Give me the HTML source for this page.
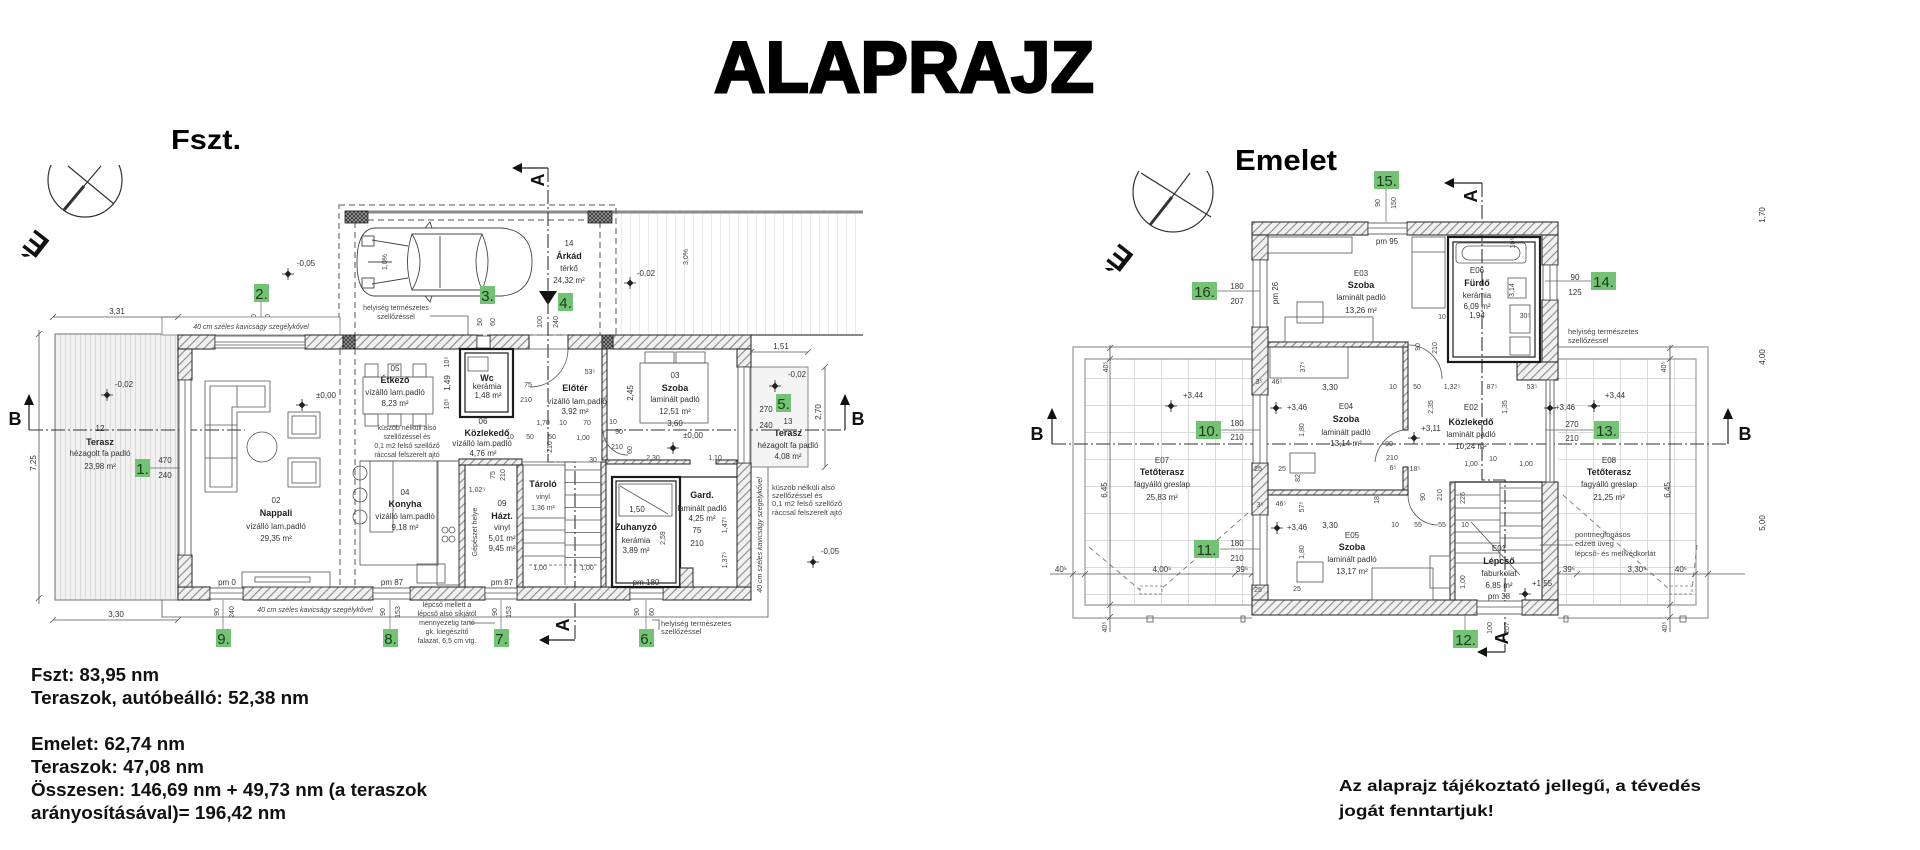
<!DOCTYPE html>
<html><head><meta charset="utf-8"><title>Alaprajz</title><style>
html,body{margin:0;padding:0;background:#fff;}
svg{display:block;}
text{font-family:"Liberation Sans",Arial,sans-serif;}
.t{font-size:8px;fill:#333;text-anchor:middle;}
.ts{font-size:7px;fill:#444;text-anchor:middle;}
.tl{font-size:7.5px;fill:#444;}
.tb{font-size:9px;font-weight:bold;fill:#222;text-anchor:middle;}
.w{fill:url(#h);stroke:#333;stroke-width:1.1;}
.win{fill:#fff;stroke:#444;stroke-width:0.8;}
.thin{fill:none;stroke:#555;stroke-width:0.8;}
.dk{fill:none;stroke:#1a1a1a;stroke-width:2.2;}
.dk2{fill:none;stroke:#1a1a1a;stroke-width:1.2;}
.dash{fill:none;stroke:#555;stroke-width:1;stroke-dasharray:6 4;}
.sec{fill:none;stroke:#333;stroke-width:1.1;stroke-dasharray:14 3 2 3;}
.dim{fill:none;stroke:#555;stroke-width:0.8;}
.gl{fill:#74c274;}
.gt{font-size:15px;fill:#1e3a1e;text-anchor:middle;}
.big{font-weight:bold;fill:#000;}
.sl{font-size:18px;font-weight:bold;fill:#111;text-anchor:middle;}
</style></head><body>
<svg width="1920" height="850" viewBox="0 0 1920 850" xmlns="http://www.w3.org/2000/svg">
<defs>
<pattern id="h" width="6" height="6" patternUnits="userSpaceOnUse" patternTransform="rotate(45)"><rect width="6" height="6" fill="#f0f0f0"/><rect width="1.1" height="6" fill="#8a8a8a"/></pattern>
<pattern id="xh" width="4" height="4" patternUnits="userSpaceOnUse"><rect width="4" height="4" fill="#3a3a3a"/><path d="M0 0L4 4M4 0L0 4" stroke="#bbb" stroke-width="0.6"/></pattern>
<pattern id="deck" width="5" height="10" patternUnits="userSpaceOnUse"><rect width="5" height="10" fill="#f1f1f1"/><rect width="0.7" height="10" fill="#d2d2d2"/></pattern>
<pattern id="tile" width="27" height="27" patternUnits="userSpaceOnUse"><path d="M0 0.5H27M0.5 0V27" stroke="#dadada" stroke-width="1" fill="none"/></pattern>
<pattern id="faint" width="9" height="10" patternUnits="userSpaceOnUse"><rect width="0.8" height="10" fill="#e4e4e4"/></pattern>
<g id="mk"><path d="M-3.5 0L0 -3.5L3.5 0L0 3.5Z" fill="#222"/><path d="M-6 0H6M0 -6V6" stroke="#222" stroke-width="0.8"/></g>
<clipPath id="c1"><rect x="0" y="165" width="200" height="80"/></clipPath>
<clipPath id="c2"><rect x="1100" y="171" width="200" height="80"/></clipPath>
</defs>

<!-- TITLES -->
<text x="714" y="92" font-size="72" class="big" stroke="#000" stroke-width="2.5" textLength="380" lengthAdjust="spacingAndGlyphs">ALAPRAJZ</text>
<text x="171" y="149" font-size="28" class="big" textLength="70" lengthAdjust="spacingAndGlyphs">Fszt.</text>
<text x="1235" y="170" font-size="29" class="big" textLength="102" lengthAdjust="spacingAndGlyphs">Emelet</text>

<!-- COMPASS LEFT -->
<g clip-path="url(#c1)"><circle cx="85" cy="180" r="37" fill="none" stroke="#333" stroke-width="1.2"/></g>
<path d="M68 166L114 204" stroke="#333" stroke-width="1.2"/>
<path d="M101 166L84 186" stroke="#333" stroke-width="1.2"/>
<path d="M84 186L64 210" stroke="#333" stroke-width="3"/>
<text transform="translate(36,244) rotate(-142)" font-size="32" font-weight="bold" fill="#111" text-anchor="middle" dy="11">É</text>
<!-- COMPASS RIGHT -->
<g clip-path="url(#c2)"><circle cx="1173" cy="192" r="40" fill="none" stroke="#333" stroke-width="1.2"/></g>
<path d="M1141 173L1211 217" stroke="#333" stroke-width="1.2"/>
<path d="M1190 173L1172 197" stroke="#333" stroke-width="1.2"/>
<path d="M1172 197L1150 225" stroke="#333" stroke-width="3"/>
<text transform="translate(1120,258) rotate(-142)" font-size="32" font-weight="bold" fill="#111" text-anchor="middle" dy="11">É</text>

<!-- ================= GROUND FLOOR ================= -->
<!-- carport area -->
<rect x="616" y="212" width="247" height="123" fill="url(#faint)"/>
<line x1="345" y1="212" x2="863" y2="212" stroke="#8a8a8a" stroke-width="3"/>
<line x1="751" y1="335" x2="863" y2="335" stroke="#888" stroke-width="2"/>
<rect class="dash" x="339" y="205" width="277" height="130"/>
<path class="dash" d="M368 220H588M355 222V335M600 222V335"/>
<rect x="345" y="211" width="23" height="12" fill="url(#xh)" stroke="#222" stroke-width="0.8"/>
<rect x="588" y="211" width="24" height="12" fill="url(#xh)" stroke="#222" stroke-width="0.8"/>
<text transform="translate(686,257) rotate(-90)" class="ts" dy="2">3,0%</text>
<!-- car -->
<g fill="none" stroke="#444" stroke-width="0.9">
<path d="M374 228Q357 230 357 262Q357 294 374 296L502 296Q532 293 532 262Q532 231 502 228Z"/>
<path d="M412 234Q403 262 412 290L482 290Q494 262 482 234Z"/>
<path d="M412 234Q428 262 412 290M482 234Q470 262 482 290M440 236V288"/>
<path d="M372 240L408 246M372 284L408 278M368 262H392"/>
<rect x="362" y="236" width="12" height="10"/><rect x="362" y="278" width="12" height="10"/>
<path d="M425 228L430 222L432 228M425 296L430 302L432 296"/>
</g>
<text class="ts" transform="translate(385,262) rotate(-90)" dy="2">1,0%</text>
<text class="t" x="569" y="246">14</text>
<text class="tb" x="569" y="259">Árkád</text>
<text class="t" x="569" y="271">térkő</text>
<text class="t" x="569" y="283">24,32 m²</text>
<text class="ts" x="396" y="310">helyiség természetes</text>
<text class="ts" x="396" y="319">szellőzéssel</text>
<path class="thin" d="M430 316H468V335"/>
<path d="M539 291H557L548 305Z" fill="#111"/>
<text class="ts" transform="translate(480,322) rotate(-90)" dy="2">50</text>
<text class="ts" transform="translate(493,322) rotate(-90)" dy="2">60</text>
<text class="ts" transform="translate(540,322) rotate(-90)" dy="2">100</text>
<text class="ts" transform="translate(556,322) rotate(-90)" dy="2">240</text>
<text class="ts" transform="translate(254,320) rotate(-90)" dy="2">240</text>
<text class="ts" transform="translate(268,320) rotate(-90)" dy="2">240</text>
<line x1="261" y1="302" x2="261" y2="335" stroke="#666" stroke-width="0.7"/>
<use href="#mk" x="288" y="274"/><text class="t" x="306" y="266">-0,05</text>
<use href="#mk" x="630" y="283"/><text class="t" x="646" y="276">-0,02</text>

<!-- section A ground -->
<path class="sec" d="M548 168V462H575V640"/>
<path d="M548 168H520" stroke="#222" stroke-width="1.2"/>
<path d="M512 168L522 163L522 173Z" fill="#111"/>
<text class="sl" transform="translate(538,180) rotate(-90)" dy="6">A</text>
<path d="M575 640H547" stroke="#222" stroke-width="1.2"/>
<path d="M539 640L549 635L549 645Z" fill="#111"/>
<text class="sl" transform="translate(563,625) rotate(-90)" dy="6">A</text>

<!-- left terrace -->
<rect x="55" y="334" width="123" height="266" fill="url(#deck)" stroke="#888" stroke-width="1.2"/>
<rect x="162" y="317" width="178" height="18" fill="#fff" stroke="#777" stroke-width="0.8"/>
<text class="ts" x="251" y="329" font-style="italic">40 cm széles kavicságy szegélykővel</text>
<path class="thin" d="M162 600V617H768V467H751"/>
<text class="ts" x="315" y="612" font-style="italic">40 cm széles kavicságy szegélykővel</text>
<text class="ts" transform="translate(760,535) rotate(-90)" font-style="italic" dy="2">40 cm széles kavicságy szegélykővel</text>
<!-- right terrace -->
<rect x="751" y="367" width="57" height="100" fill="#f4f4f4" stroke="#888" stroke-width="1"/>

<!-- dimension lines ground -->
<path class="dim" d="M53 317H178M39 330V604M53 620H178M751 352H808M825 367V467"/>
<path class="dim" d="M50 320L56 314M175 320L181 314M36 337L42 331M36 601L42 595M50 623L56 617M175 623L181 617M748 355L754 349M805 355L811 349M822 370L828 364M822 470L828 464"/>
<text class="t" x="117" y="314">3,31</text>
<text class="t" x="116" y="617">3,30</text>
<text class="t" transform="translate(33,463) rotate(-90)" dy="3">7,25</text>
<text class="t" x="781" y="349">1,51</text>
<text class="t" transform="translate(818,412) rotate(-90)" dy="3">2,70</text>

<!-- section B ground -->
<path class="sec" d="M29 430H245M607 430H845"/>
<path d="M29 430V402M845 430V402" stroke="#222" stroke-width="1.2"/>
<path d="M29 394L24 405H34Z M845 394L840 405H850Z" fill="#111"/>
<text class="sl" x="15" y="425">B</text>
<text class="sl" x="858" y="425">B</text>

<!-- ground walls -->
<rect class="w" x="178" y="335" width="37" height="14"/><rect class="w" x="305" y="335" width="38" height="14"/>
<rect class="w" x="355" y="335" width="122" height="14"/><rect class="w" x="490" y="335" width="39" height="14"/>
<rect class="w" x="568" y="335" width="34" height="14"/><rect class="w" x="613" y="335" width="138" height="14"/>
<rect x="343" y="335" width="12" height="14" fill="url(#xh)" stroke="#222" stroke-width="0.8"/>
<rect x="602" y="335" width="11" height="14" fill="url(#xh)" stroke="#222" stroke-width="0.8"/>
<rect class="win" x="215" y="336" width="90" height="12"/><path class="thin" d="M215 342H305M215 345H305"/>
<rect class="win" x="477" y="336" width="13" height="12"/>
<path class="thin" d="M529 335H568M529 349H568"/>
<rect class="w" x="178" y="587" width="32" height="13"/><rect class="w" x="243" y="587" width="130" height="13"/>
<rect class="w" x="410" y="587" width="75" height="13"/><rect class="w" x="517" y="587" width="113" height="13"/>
<rect class="w" x="663" y="587" width="88" height="13"/>
<rect class="win" x="210" y="588" width="33" height="11"/><rect class="win" x="373" y="588" width="37" height="11"/>
<rect class="win" x="485" y="588" width="32" height="11"/><rect class="win" x="630" y="588" width="33" height="11"/>
<path class="thin" d="M210 593H243M373 593H410M485 593H517M630 593H663"/>
<rect class="w" x="178" y="349" width="14" height="31"/><rect class="w" x="178" y="555" width="14" height="32"/>
<rect class="win" x="179" y="380" width="12" height="175"/><path class="thin" d="M185 380V555"/>
<rect class="w" x="737" y="349" width="14" height="18"/><rect class="w" x="737" y="463" width="14" height="124"/>
<rect class="win" x="738" y="367" width="12" height="96"/><path class="thin" d="M744 367V463"/>

<!-- ground interior -->
<path class="dash" d="M340 349V587M355 349V587"/>
<rect class="dk" x="460" y="349" width="53" height="68"/><rect class="dk2" x="465" y="353" width="43" height="59"/>
<rect class="w" x="602" y="349" width="5" height="111"/>
<rect class="w" x="459" y="459" width="63" height="6"/>
<rect class="w" x="459" y="465" width="6" height="122"/>
<rect class="w" x="517" y="465" width="6" height="122"/>
<rect class="w" x="601" y="462" width="5" height="125"/>
<rect class="w" x="606" y="460" width="84" height="4"/><rect class="w" x="716" y="460" width="21" height="4"/>
<path class="thin" d="M360 461H459M523 462H601"/>
<rect class="dk" x="612" y="477" width="68" height="110"/><rect class="dk2" x="616" y="481" width="60" height="102"/>
<rect class="thin" x="619" y="484" width="53" height="32"/>
<path class="thin" d="M620 486L668 514"/>
<path class="dk2" d="M680 477H737"/>
<rect class="w" x="680" y="568" width="13" height="19"/>
<!-- stairs ground -->
<rect class="thin" x="523" y="465" width="42" height="53"/>
<path class="thin" d="M565 470H601M565 482.5H601M565 495H601M565 507.5H601M565 520H601M565 532.5H601M565 545H601M565 557.5H601M523 530H565M523 543H565M523 556H565M565 462V585"/>
<path class="thin" d="M529 565H598" stroke-dasharray="3 2"/>
<!-- furniture ground -->
<g class="thin">
<path d="M205 381H270V412H237V492H205Z"/><path d="M210 386H265V407H232V487H210Z"/><path d="M205 425H237M205 458H237M237 386V407"/>
<circle cx="262" cy="447" r="15"/>
<rect x="288" y="412" width="32" height="26"/><rect x="292" y="416" width="24" height="18"/>
<rect x="288" y="458" width="32" height="29"/><rect x="292" y="462" width="24" height="21"/>
<rect x="242" y="572" width="88" height="15"/><rect x="255" y="577" width="55" height="5"/>
<rect x="363" y="377" width="70" height="37"/>
<rect x="365" y="364" width="13" height="13"/><rect x="388" y="364" width="13" height="13"/><rect x="413" y="364" width="13" height="13"/>
<rect x="365" y="414" width="13" height="12"/><rect x="388" y="414" width="13" height="12"/><rect x="413" y="414" width="13" height="12"/>
<rect x="360" y="461" width="78" height="104"/><rect x="370" y="461" width="23" height="71"/>
<circle cx="360" cy="473" r="7"/><circle cx="360" cy="495" r="7"/><circle cx="360" cy="517" r="7"/>
<rect x="437" y="461" width="22" height="124"/><rect x="417" y="564" width="28" height="19"/>
<circle cx="445" cy="530" r="3"/><circle cx="452" cy="530" r="3"/><circle cx="445" cy="539" r="3"/><circle cx="452" cy="539" r="3"/>
<rect x="640" y="363" width="68" height="60"/><rect x="645" y="352" width="29" height="11"/><rect x="676" y="352" width="29" height="11"/>
<rect x="468" y="357" width="20" height="14"/>
<path d="M568 349A38 38 0 0 1 530 387"/><path d="M603 430A25 25 0 0 0 628 455"/>
</g>
<!-- ground labels -->
<use href="#mk" x="107" y="395"/><text class="t" x="124" y="387">-0,02</text>
<text class="t" x="100" y="431">12</text>
<text class="tb" x="100" y="445">Terasz</text>
<text class="t" x="100" y="456">hézagolt fa padló</text>
<text class="t" x="100" y="469">23,98 m²</text>
<text class="t" x="165" y="463">470</text><text class="t" x="165" y="478">240</text>
<line x1="150" y1="468" x2="180" y2="468" stroke="#666" stroke-width="0.7"/>
<use href="#mk" x="302" y="405"/><text class="t" x="326" y="398" font-size="9">±0,00</text>
<text class="t" x="276" y="503">02</text>
<text class="tb" x="276" y="516">Nappali</text>
<text class="t" x="276" y="529" font-size="8.5">vízálló lam.padló</text>
<text class="t" x="276" y="541">29,35 m²</text>
<text class="t" x="395" y="371">05</text>
<text class="tb" x="395" y="383">Étkező</text>
<text class="t" x="395" y="395">vízálló lam.padló</text>
<text class="t" x="395" y="406">8,23 m²</text>
<text class="ts" x="407" y="430">küszöb nélküli alsó</text>
<text class="ts" x="407" y="439">szellőzéssel és</text>
<text class="ts" x="407" y="448">0,1 m2 felső szellőző</text>
<text class="ts" x="407" y="457">ráccsal felszerelt ajtó</text>
<text class="t" x="483" y="424">06</text>
<text class="tb" x="487" y="436">Közlekedő</text>
<text class="t" x="482" y="446">vízálló lam.padló</text>
<text class="t" x="483" y="456">4,76 m²</text>
<text class="tb" x="487" y="381">Wc</text>
<text class="t" x="487" y="389">kerámia</text>
<text class="t" x="488" y="398">1,48 m²</text>
<text class="tb" x="575" y="391">Előtér</text>
<text class="t" x="577" y="404">vízálló lam.padló</text>
<text class="t" x="575" y="414">3,92 m²</text>
<text class="t" x="675" y="378">03</text>
<text class="tb" x="675" y="391">Szoba</text>
<text class="t" x="675" y="402">laminált padló</text>
<text class="t" x="675" y="414">12,51 m²</text>
<text class="t" x="675" y="426">3,60</text>
<use href="#mk" x="673" y="448"/><text class="t" x="693" y="438" font-size="9">±0,00</text>
<text class="t" transform="translate(630,393) rotate(-90)" dy="3">2,45</text>
<text class="t" x="405" y="495">04</text>
<text class="tb" x="405" y="507">Konyha</text>
<text class="t" x="405" y="519">vízálló lam.padló</text>
<text class="t" x="405" y="530">9,18 m²</text>
<text class="t" x="502" y="506">09</text>
<text class="tb" x="502" y="519">Házt.</text>
<text class="t" x="502" y="530">vinyl</text>
<text class="t" x="502" y="541">5,01 m²</text>
<text class="t" x="502" y="551">9,45 m²</text>
<text class="tb" x="543" y="487" font-size="8">Tároló</text>
<text class="ts" x="543" y="499">vinyl</text>
<text class="ts" x="543" y="510">1,36 m²</text>
<text class="tb" x="636" y="530" font-size="8.5">Zuhanyzó</text>
<text class="t" x="636" y="543">kerámia</text>
<text class="t" x="636" y="553">3,89 m²</text>
<text class="t" x="637" y="512">1,50</text>
<text class="tb" x="702" y="498">Gard.</text>
<text class="t" x="702" y="511">laminált padló</text>
<text class="t" x="702" y="521">4,25 m²</text>
<text class="t" x="697" y="533">75</text><text class="t" x="697" y="546">210</text>
<text class="tl" x="772" y="490">küszöb nélküli alsó</text>
<text class="tl" x="772" y="498">szellőzéssel és</text>
<text class="tl" x="772" y="506">0,1 m2 felső szellőző</text>
<text class="tl" x="772" y="515">ráccsal felszerelt ajtó</text>
<use href="#mk" x="813" y="562"/><text class="t" x="830" y="554">-0,05</text>
<use href="#mk" x="775" y="386"/><text class="t" x="797" y="377">-0,02</text>
<text class="t" x="766" y="412">270</text><text class="t" x="766" y="428">240</text>
<text class="t" x="788" y="424">13</text>
<text class="tb" x="788" y="436">Terasz</text>
<text class="t" x="788" y="448">hézagolt fa padló</text>
<text class="t" x="788" y="459">4,08 m²</text>
<text class="t" x="227" y="585">pm 0</text><text class="t" x="392" y="585">pm 87</text>
<text class="t" x="502" y="585">pm 87</text><text class="t" x="646" y="585">pm 180</text>
<text class="t" transform="translate(447,383) rotate(-90)" dy="3">1,49</text>
<text class="ts" transform="translate(447,362) rotate(-90)" dy="2">10⁵</text>
<text class="ts" transform="translate(447,404) rotate(-90)" dy="2">10⁵</text>
<text class="ts" x="543" y="425">1,70</text><text class="ts" x="563" y="425">10</text><text class="ts" x="587" y="425">70</text>
<text class="ts" x="613" y="424">10</text><text class="ts" x="619" y="434">90</text>
<text class="ts" x="510" y="439">10</text><text class="ts" x="530" y="439">50</text><text class="ts" x="552" y="439">50</text>
<text class="ts" x="583" y="440">1,00</text><text class="ts" x="617" y="449">210</text>
<text class="ts" x="593" y="462">30</text><text class="ts" x="653" y="460">2,30</text><text class="ts" x="715" y="460">1,10</text>
<text class="ts" transform="translate(630,450) rotate(-90)" dy="2">60</text>
<text class="ts" transform="translate(550,447) rotate(-90)" dy="2">210</text>
<text class="ts" transform="translate(493,475) rotate(-90)" dy="2">75</text>
<text class="ts" transform="translate(503,475) rotate(-90)" dy="2">210</text>
<text class="ts" x="477" y="492">1,02⁵</text>
<text class="ts" x="540" y="570">1,00</text><text class="ts" x="587" y="570">1,00</text>
<text class="ts" transform="translate(663,538) rotate(-90)" dy="2">2,59</text>
<text class="ts" transform="translate(725,525) rotate(-90)" dy="2">1,47⁵</text>
<text class="ts" transform="translate(725,560) rotate(-90)" dy="2">1,37⁵</text>
<text class="ts" x="528" y="387">75</text><text class="ts" x="526" y="402">210</text><text class="ts" x="590" y="374">53⁵</text>
<text class="ts" transform="translate(475,532) rotate(-90)" dy="2">Gépészet helye</text>
<!-- below ground -->
<text class="ts" transform="translate(217,612) rotate(-90)" dy="2">90</text><text class="ts" transform="translate(232,612) rotate(-90)" dy="2">240</text>
<text class="ts" transform="translate(383,612) rotate(-90)" dy="2">90</text><text class="ts" transform="translate(398,612) rotate(-90)" dy="2">153</text>
<text class="ts" transform="translate(495,612) rotate(-90)" dy="2">90</text><text class="ts" transform="translate(509,612) rotate(-90)" dy="2">153</text>
<text class="ts" transform="translate(637,612) rotate(-90)" dy="2">90</text><text class="ts" transform="translate(652,612) rotate(-90)" dy="2">60</text>
<path d="M223 600V629M390 600V629M501 600V629M646 600V629" stroke="#666" stroke-width="0.7"/>
<text class="ts" x="447" y="607">lépcső mellett a</text>
<text class="ts" x="447" y="616">lépcső alsó síkjától</text>
<text class="ts" x="447" y="625">mennyezetig tartó</text>
<text class="ts" x="447" y="634">gk. kiegészítő</text>
<text class="ts" x="447" y="643">falazat, 6,5 cm vtg.</text>
<path class="thin" d="M470 623H495"/>
<text class="tl" x="661" y="626">helyiség természetes</text>
<text class="tl" x="661" y="634">szellőzéssel</text>
<path class="thin" d="M652 620H659V630"/>

<!-- ================= UPPER FLOOR ================= -->
<!-- terraces -->
<rect x="1085" y="359" width="167" height="246" fill="url(#tile)"/>
<rect x="1558" y="359" width="138" height="246" fill="url(#tile)"/>
<path d="M1252 347H1073V618H1252M1252 359H1085V605H1252" fill="none" stroke="#999" stroke-width="1.2"/>
<path d="M1558 347H1708V618H1558M1558 359H1696V605H1558" fill="none" stroke="#999" stroke-width="1.2"/>
<path d="M1089 547L1140 590M1248 513L1160 590M1563 495L1670 590M1697 545L1692 590" fill="none" stroke="#777" stroke-width="0.9" stroke-dasharray="5 4"/>
<rect x="1140" y="586" width="22" height="8" fill="none" stroke="#777" stroke-width="0.8" stroke-dasharray="3 2"/>
<rect x="1670" y="586" width="22" height="8" fill="none" stroke="#777" stroke-width="0.8" stroke-dasharray="3 2"/>
<rect class="thin" x="1147" y="616" width="6" height="6"/><rect class="thin" x="1241" y="616" width="4" height="6"/>
<rect class="thin" x="1564" y="616" width="4" height="6"/><rect class="thin" x="1680" y="616" width="6" height="6"/>
<!-- dimension lines upper -->
<path class="dim" d="M1110 345V632M1670 345V632M1050 574H1255M1555 574H1745"/>
<path class="dim" d="M1107 351L1113 345M1107 362L1113 356M1107 608L1113 602M1107 620L1113 614M1667 351L1673 345M1667 362L1673 356M1667 608L1673 602M1667 620L1673 614M1070 577L1076 571M1082 577L1088 571M1232 577L1238 571M1249 577L1255 571M1555 577L1561 571M1574 577L1580 571M1692 577L1698 571M1705 577L1711 571"/>
<text class="t" transform="translate(1104,490) rotate(-90)" dy="3">6,45</text>
<text class="t" transform="translate(1667,490) rotate(-90)" dy="3">6,45</text>
<text class="ts" transform="translate(1106,367) rotate(-90)" dy="2">40⁵</text>
<text class="ts" transform="translate(1664,367) rotate(-90)" dy="2">40⁵</text>
<text class="ts" transform="translate(1105,627) rotate(-90)" dy="2">40⁵</text>
<text class="ts" transform="translate(1665,627) rotate(-90)" dy="2">40⁵</text>
<text class="t" x="1061" y="572">40⁵</text><text class="t" x="1162" y="572">4,00⁵</text><text class="t" x="1242" y="572">39⁵</text>
<text class="t" x="1569" y="572">39⁵</text><text class="t" x="1637" y="572">3,30⁵</text><text class="t" x="1681" y="572">40⁵</text>
<text class="t" transform="translate(1762,215) rotate(-90)" fill="#bbb" dy="3">1,70</text>
<text class="t" transform="translate(1762,357) rotate(-90)" fill="#bbb" dy="3">4,00</text>
<text class="t" transform="translate(1762,523) rotate(-90)" fill="#bbb" dy="3">5,00</text>
<!-- section B upper -->
<path class="sec" d="M1052 444H1728"/>
<path d="M1052 444V416M1728 444V416" stroke="#222" stroke-width="1.2"/>
<path d="M1052 408L1047 419H1057Z M1728 408L1723 419H1733Z" fill="#111"/>
<text class="sl" x="1037" y="440">B</text>
<text class="sl" x="1745" y="440">B</text>
<!-- section A upper -->
<path class="sec" d="M1482 183V480H1505V652"/>
<path d="M1482 183H1452" stroke="#222" stroke-width="1.2"/>
<path d="M1444 183L1454 178L1454 188Z" fill="#111"/>
<text class="sl" transform="translate(1471,196) rotate(-90)" dy="6">A</text>
<path d="M1505 652H1485" stroke="#222" stroke-width="1.2"/>
<path d="M1477 652L1487 647L1487 657Z" fill="#111"/>
<text class="sl" transform="translate(1502,638) rotate(-90)" dy="6">A</text>

<!-- upper walls -->
<rect class="w" x="1252" y="222" width="116" height="13"/><rect class="w" x="1407" y="222" width="151" height="13"/>
<rect class="win" x="1368" y="223" width="39" height="11"/><path class="thin" d="M1368 228H1407"/>
<rect class="w" x="1252" y="235" width="16" height="25"/><rect class="w" x="1252" y="327" width="16" height="68"/>
<rect class="w" x="1252" y="463" width="16" height="52"/><rect class="w" x="1252" y="585" width="16" height="15"/>
<rect class="win" x="1253" y="260" width="14" height="67"/><rect class="win" x="1253" y="395" width="14" height="68"/><rect class="win" x="1253" y="515" width="14" height="70"/>
<path class="thin" d="M1260 260V327M1260 395V463M1260 515V585"/>
<rect class="w" x="1542" y="235" width="16" height="30"/><rect class="w" x="1542" y="300" width="16" height="62"/>
<rect class="w" x="1517" y="362" width="41" height="18"/><rect class="w" x="1542" y="482" width="16" height="118"/>
<rect class="win" x="1543" y="265" width="14" height="35"/><rect class="win" x="1546" y="380" width="8" height="102"/>
<path class="thin" d="M1550 265V300M1550 380V482"/>
<rect class="w" x="1252" y="600" width="225" height="15"/><rect class="w" x="1522" y="600" width="36" height="15"/>
<rect class="win" x="1477" y="601" width="45" height="13"/><path class="thin" d="M1477 607H1522"/>
<!-- upper interior -->
<rect class="dk" x="1448" y="237" width="92" height="125"/><rect class="dk2" x="1453" y="242" width="82" height="115"/>
<rect class="thin" x="1456" y="243" width="70" height="20" rx="3"/><rect class="thin" x="1462" y="246" width="58" height="14" rx="7"/>
<rect class="w" x="1268" y="342" width="140" height="5"/>
<rect class="w" x="1403" y="347" width="5" height="83"/><rect class="w" x="1403" y="467" width="5" height="28"/>
<rect class="w" x="1268" y="490" width="140" height="5"/>
<rect class="w" x="1450" y="482" width="5" height="118"/>
<path class="dk2" d="M1455 482H1542"/>
<path class="thin" d="M1455 495H1500M1455 508H1500M1455 520H1500M1455 532H1500M1455 543H1500M1455 553H1500M1455 563H1500M1500 488H1542M1500 501H1542M1500 513H1542M1500 526H1542M1500 538H1542M1500 550H1542M1500 563H1542M1500 482V563"/>
<path class="thin" d="M1471 522L1520 575"/>
<g class="thin">
<rect x="1412" y="237" width="33" height="71"/><path d="M1412 252H1445"/>
<rect x="1285" y="317" width="88" height="25"/><rect x="1297" y="302" width="26" height="21"/>
<rect x="1268" y="237" width="84" height="16"/>
<rect x="1270" y="347" width="78" height="31"/>
<rect x="1290" y="453" width="25" height="20"/>
<rect x="1372" y="568" width="61" height="32"/><rect x="1297" y="562" width="26" height="20"/>
<rect x="1508" y="278" width="18" height="20"/><rect x="1510" y="305" width="20" height="28"/><rect x="1510" y="337" width="20" height="18"/>
<path d="M1408 345A34 34 0 0 1 1442 379"/><path d="M1403 430A36 36 0 0 0 1375 462"/><path d="M1408 495A30 30 0 0 0 1438 525"/>
<rect x="1430" y="556" width="20" height="32"/>
</g>
<!-- upper labels -->
<text class="t" x="1361" y="276">E03</text>
<text class="tb" x="1361" y="288">Szoba</text>
<text class="t" x="1361" y="300" font-size="8.5">laminált padló</text>
<text class="t" x="1361" y="313">13,26 m²</text>
<text class="t" x="1477" y="273">E06</text>
<text class="tb" x="1477" y="286">Fürdő</text>
<text class="t" x="1477" y="298">kerámia</text>
<text class="t" x="1477" y="309">6,09 m²</text>
<text class="t" x="1477" y="318">1,94</text>
<text class="t" x="1346" y="409">E04</text>
<text class="tb" x="1346" y="422">Szoba</text>
<text class="t" x="1346" y="435" font-size="8.5">laminált padló</text>
<text class="t" x="1346" y="446">13,14 m²</text>
<text class="t" x="1471" y="410">E02</text>
<text class="tb" x="1471" y="425">Közlekedő</text>
<text class="t" x="1471" y="437" font-size="8.5">laminált padló</text>
<text class="t" x="1471" y="449">10,24 m²</text>
<text class="t" x="1352" y="538">E05</text>
<text class="tb" x="1352" y="550">Szoba</text>
<text class="t" x="1352" y="562" font-size="8.5">laminált padló</text>
<text class="t" x="1352" y="574">13,17 m²</text>
<text class="t" x="1499" y="551">E01</text>
<text class="tb" x="1499" y="564">Lépcső</text>
<text class="t" x="1499" y="576">faburkolat</text>
<text class="t" x="1499" y="588">6,85 m²</text>
<text class="t" x="1499" y="599">pm 38</text>
<text class="t" x="1162" y="463">E07</text>
<text class="tb" x="1162" y="475">Tetőterasz</text>
<text class="t" x="1162" y="487" font-size="8.5">fagyálló greslap</text>
<text class="t" x="1162" y="500">25,83 m²</text>
<text class="t" x="1609" y="463">E08</text>
<text class="tb" x="1609" y="475">Tetőterasz</text>
<text class="t" x="1609" y="487" font-size="8.5">fagyálló greslap</text>
<text class="t" x="1609" y="500">21,25 m²</text>
<text class="tl" x="1575" y="537">pontmegfogásos</text>
<text class="tl" x="1575" y="546">edzett üveg</text>
<text class="tl" x="1575" y="556">lépcső- és mellvédkorlát</text>
<path class="thin" d="M1540 545H1573"/>
<text class="tl" x="1568" y="334">helyiség természetes</text>
<text class="tl" x="1568" y="343">szellőzéssel</text>
<use href="#mk" x="1171" y="406"/><text class="t" x="1193" y="398">+3,44</text>
<use href="#mk" x="1594" y="406"/><text class="t" x="1615" y="398">+3,44</text>
<use href="#mk" x="1276" y="408"/><text class="t" x="1297" y="410">+3,46</text>
<use href="#mk" x="1550" y="408"/><text class="t" x="1565" y="410">+3,46</text>
<use href="#mk" x="1414" y="438"/><text class="t" x="1431" y="431">+3,11</text>
<use href="#mk" x="1277" y="528"/><text class="t" x="1297" y="530">+3,46</text>
<use href="#mk" x="1525" y="594"/><text class="t" x="1542" y="586">+1,55</text>
<text class="t" x="1237" y="426">180</text><text class="t" x="1237" y="440">210</text>
<text class="t" x="1237" y="546">180</text><text class="t" x="1237" y="561">210</text>
<text class="t" x="1572" y="427">270</text><text class="t" x="1572" y="441">210</text>
<text class="t" x="1575" y="280">90</text><text class="t" x="1575" y="295">125</text>
<text class="t" x="1237" y="289">180</text><text class="t" x="1237" y="304">207</text>
<path d="M1216 291H1260M1220 430H1260M1220 549H1260M1545 430H1595M1545 281H1592" stroke="#666" stroke-width="0.7"/>
<text class="ts" transform="translate(1378,203) rotate(-90)" dy="2">90</text><text class="ts" transform="translate(1394,203) rotate(-90)" dy="2">150</text>
<text class="ts" transform="translate(1490,628) rotate(-90)" dy="2">100</text><text class="ts" transform="translate(1507,628) rotate(-90)" dy="2">207</text>
<path d="M1386 189V222M1465 615V630" stroke="#666" stroke-width="0.7"/>
<text class="t" x="1387" y="244">pm 95</text>
<text class="t" transform="translate(1275,293) rotate(-90)" dy="3">pm 26</text>
<text class="ts" transform="translate(1418,347) rotate(-90)" dy="2">90</text><text class="ts" transform="translate(1435,348) rotate(-90)" dy="2">210</text>
<text class="ts" transform="translate(1513,243) rotate(-90)" dy="2">10⁵</text>
<text class="ts" transform="translate(1512,290) rotate(-90)" dy="2">3,14</text>
<text class="ts" x="1442" y="319">10</text><text class="ts" x="1525" y="318">30⁵</text>
<text class="ts" transform="translate(1303,367) rotate(-90)" dy="2">37⁵</text>
<text class="ts" x="1259" y="384">3⁵</text><text class="ts" x="1277" y="384">46⁵</text>
<text class="t" x="1330" y="390">3,30</text><text class="ts" x="1393" y="389">10</text><text class="ts" x="1417" y="389">50</text>
<text class="ts" x="1452" y="389">1,32⁵</text><text class="ts" x="1492" y="389">87⁵</text><text class="ts" x="1532" y="389">53⁵</text>
<text class="ts" transform="translate(1431,407) rotate(-90)" dy="2">2,35</text>
<text class="ts" transform="translate(1505,407) rotate(-90)" dy="2">1,35</text>
<text class="ts" transform="translate(1302,430) rotate(-90)" dy="2">1,80</text>
<text class="ts" transform="translate(1302,552) rotate(-90)" dy="2">1,80</text>
<text class="ts" x="1389" y="446">90</text><text class="ts" x="1392" y="460">210</text>
<text class="ts" x="1471" y="466">1,00</text><text class="ts" x="1493" y="461">10</text><text class="ts" x="1526" y="466">1,00</text>
<text class="ts" x="1258" y="471">25</text><text class="ts" x="1282" y="471">25</text>
<text class="ts" transform="translate(1298,478) rotate(-90)" dy="2">82</text>
<text class="ts" x="1260" y="507">3⁵</text><text class="ts" x="1281" y="506">46⁵</text>
<text class="ts" transform="translate(1302,507) rotate(-90)" dy="2">57⁵</text>
<text class="ts" transform="translate(1377,500) rotate(-90)" dy="2">18</text>
<text class="ts" x="1393" y="470">6⁵</text><text class="ts" x="1415" y="471">18⁵</text>
<text class="ts" transform="translate(1423,497) rotate(-90)" dy="2">90</text>
<text class="ts" transform="translate(1440,495) rotate(-90)" dy="2">210</text>
<text class="ts" transform="translate(1463,498) rotate(-90)" dy="2">226</text>
<text class="t" x="1330" y="528">3,30</text>
<text class="ts" x="1395" y="527">10</text><text class="ts" x="1418" y="527">55</text><text class="ts" x="1442" y="527">55</text><text class="ts" x="1465" y="527">10</text>
<text class="ts" transform="translate(1463,582) rotate(-90)" dy="2">1,00</text>
<text class="ts" x="1258" y="592">25</text><text class="ts" x="1297" y="591">25</text>

<!-- GREEN LABELS -->
<g>
<rect class="gl" x="135" y="459" width="15" height="18"/><text class="gt" x="142.5" y="474">1.</text>
<rect class="gl" x="254" y="284" width="15" height="18"/><text class="gt" x="261.5" y="299">2.</text>
<rect class="gl" x="480" y="286" width="15" height="18"/><text class="gt" x="487.5" y="301">3.</text>
<rect class="gl" x="558" y="293" width="15" height="18"/><text class="gt" x="565.5" y="308">4.</text>
<rect class="gl" x="776" y="394" width="15" height="18"/><text class="gt" x="783.5" y="409">5.</text>
<rect class="gl" x="639" y="629" width="15" height="18"/><text class="gt" x="646.5" y="644">6.</text>
<rect class="gl" x="494" y="629" width="15" height="18"/><text class="gt" x="501.5" y="644">7.</text>
<rect class="gl" x="383" y="629" width="15" height="18"/><text class="gt" x="390.5" y="644">8.</text>
<rect class="gl" x="216" y="629" width="15" height="18"/><text class="gt" x="223.5" y="644">9.</text>
<rect class="gl" x="1196" y="421" width="25" height="18"/><text class="gt" x="1208.5" y="436">10.</text>
<rect class="gl" x="1194" y="540" width="25" height="18"/><text class="gt" x="1206.5" y="555">11.</text>
<rect class="gl" x="1453" y="630" width="25" height="18"/><text class="gt" x="1465.5" y="645">12.</text>
<rect class="gl" x="1594" y="421" width="25" height="18"/><text class="gt" x="1606.5" y="436">13.</text>
<rect class="gl" x="1591" y="272" width="25" height="18"/><text class="gt" x="1603.5" y="287">14.</text>
<rect class="gl" x="1374" y="171" width="25" height="18"/><text class="gt" x="1386.5" y="186">15.</text>
<rect class="gl" x="1192" y="282" width="25" height="18"/><text class="gt" x="1204.5" y="297">16.</text>
</g>

<!-- SUMMARY TEXTS -->
<g font-size="18" font-weight="bold" fill="#111">
<text x="31" y="681" textLength="128" lengthAdjust="spacingAndGlyphs">Fszt: 83,95 nm</text>
<text x="31" y="704" textLength="278" lengthAdjust="spacingAndGlyphs">Teraszok, autóbeálló: 52,38 nm</text>
<text x="31" y="750" textLength="154" lengthAdjust="spacingAndGlyphs">Emelet: 62,74 nm</text>
<text x="31" y="773" textLength="173" lengthAdjust="spacingAndGlyphs">Teraszok: 47,08 nm</text>
<text x="31" y="796" textLength="396" lengthAdjust="spacingAndGlyphs">Összesen: 146,69 nm + 49,73 nm (a teraszok</text>
<text x="31" y="819" textLength="255" lengthAdjust="spacingAndGlyphs">arányosításával)= 196,42 nm</text>
</g>
<g font-size="16" font-weight="bold" fill="#111">
<text x="1339" y="791" textLength="362" lengthAdjust="spacingAndGlyphs">Az alaprajz tájékoztató jellegű, a tévedés</text>
<text x="1339" y="816" textLength="155" lengthAdjust="spacingAndGlyphs">jogát fenntartjuk!</text>
</g>
</svg>
</body></html>
